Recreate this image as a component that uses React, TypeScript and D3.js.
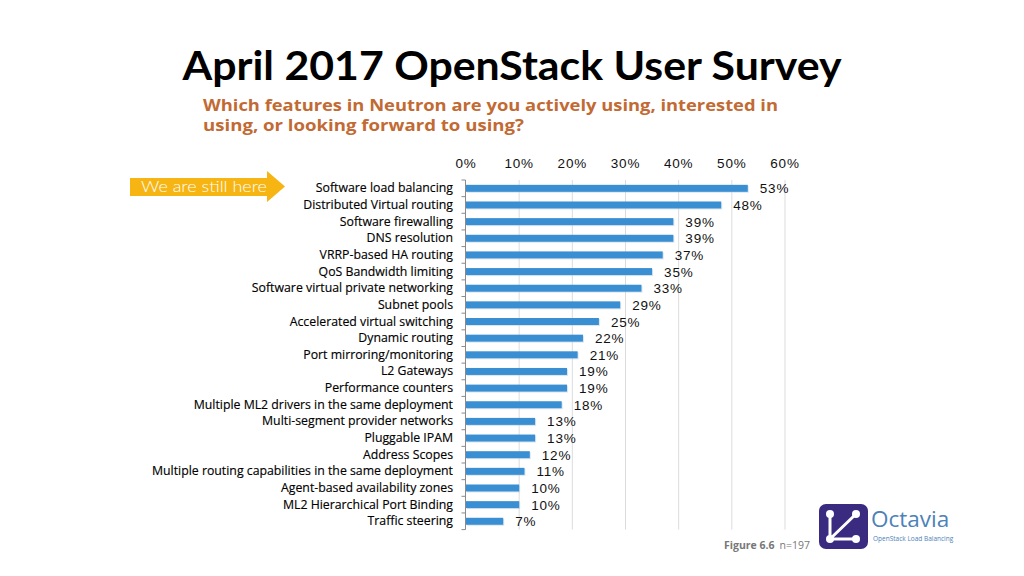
import React from "react";
import * as d3 from "d3";

const categories = [
  "Software load balancing",
  "Distributed Virtual routing",
  "Software firewalling",
  "DNS resolution",
  "VRRP-based HA routing",
  "QoS Bandwidth limiting",
  "Software virtual private networking",
  "Subnet pools",
  "Accelerated virtual switching",
  "Dynamic routing",
  "Port mirroring/monitoring",
  "L2 Gateways",
  "Performance counters",
  "Multiple ML2 drivers in the same deployment",
  "Multi-segment provider networks",
  "Pluggable IPAM",
  "Address Scopes",
  "Multiple routing capabilities in the same deployment",
  "Agent-based availability zones",
  "ML2 Hierarchical Port Binding",
  "Traffic steering",
];
const values = [53, 48, 39, 39, 37, 35, 33, 29, 25, 22, 21, 19, 19, 18, 13, 13, 12, 11, 10, 10, 7];
const xTicks = [0, 10, 20, 30, 40, 50, 60];

export default function App() {
  const W = 1024, H = 576;
  const x = d3.scaleLinear().domain([0, 60]).range([466, 785]);
  const y = d3.scaleBand<string>().domain(categories).range([180, 529.6]).paddingInner(0.58).paddingOuter(0.29);
  const step = y.step();
  const bw = y.bandwidth();
  const top = 180, bottom = 529.6;
  const fmt = (v: number) => `${v}%`;

  return (
    <svg width={W} height={H} style={{ position: "absolute", left: 0, top: 0, background: "#fff" }}>
      <rect x={0} y={0} width={W} height={H} fill="#fff" />
      <text x={512} y={80} textAnchor="middle" fontFamily="Lato, 'Open Sans', sans-serif" fontWeight={700} fontSize={41} fill="#000" textLength={659} lengthAdjust="spacingAndGlyphs">
        April 2017 OpenStack User Survey
      </text>
      <g fontFamily="'Open Sans', Lato, sans-serif" fontWeight={700} fontSize={15.5} fill="#c26a33">
        <text x={203} y={111} textLength={575} lengthAdjust="spacingAndGlyphs">Which features in Neutron are you actively using, interested in</text>
        <text x={203} y={131} textLength={321} lengthAdjust="spacingAndGlyphs">using, or looking forward to using?</text>
      </g>

      {/* arrow */}
      <path d="M130,178 L267,178 L267,171 L285,186.5 L267,202 L267,196 L130,196 Z" fill="#f6b512" />
      <text x={141} y={192} fontFamily="Lato, 'Open Sans', sans-serif" fontWeight={300} fontSize={15} fill="#fff" textLength={126} lengthAdjust="spacingAndGlyphs">We are still here</text>

      {/* gridlines */}
      {xTicks.slice(1).map((t) => (
        <line key={t} x1={x(t)} x2={x(t)} y1={top} y2={bottom} stroke="#dcdcdc" strokeWidth={1} />
      ))}
      {/* axis labels */}
      {xTicks.map((t) => (
        <text key={t} x={x(t)} y={168} textAnchor="middle" fontFamily="'Liberation Sans', Arial, sans-serif" fontSize={13.5} letterSpacing={0.8} fill="#111">
          {fmt(t)}
        </text>
      ))}
      {/* left axis */}
      <line x1={465.5} x2={465.5} y1={top} y2={bottom} stroke="#8a8a8a" strokeWidth={1} />
      {d3.range(categories.length + 1).map((i) => (
        <line key={i} x1={461.5} x2={465.5} y1={top + i * step} y2={top + i * step} stroke="#8a8a8a" strokeWidth={1} />
      ))}

      {categories.map((c, i) => {
        const yy = y(c)!;
        const cy = yy + bw / 2;
        return (
          <g key={c}>
            <rect x={x(0) + 1} y={yy + 1} width={x(values[i]) - x(0)} height={bw} fill="#b9cde0" opacity={0.5} />
            <rect x={x(0)} y={yy} width={x(values[i]) - x(0)} height={bw} fill="#3a8fd3" />
            <text x={453} y={cy + 4} textAnchor="end" fontFamily="'Open Sans', sans-serif" fontSize={12.3} fill="#000" stroke="#000" strokeWidth={0.15}>{c}</text>
            <text x={x(values[i]) + 12} y={cy + 5} fontFamily="'Liberation Sans', Arial, sans-serif" fontSize={13.5} letterSpacing={0.8} fill="#111">{fmt(values[i])}</text>
          </g>
        );
      })}

      {/* figure caption */}
      <text x={724} y={549} fontFamily="'Open Sans', sans-serif" fontSize={10.5} fill="#777">
        <tspan fontWeight={700}>Figure 6.6</tspan>
        <tspan dx={5}>n=197</tspan>
      </text>

      {/* Octavia logo */}
      <rect x={819} y={504} width={49} height={45} rx={7} fill="#3a2a80" />
      <g stroke="#fff" strokeWidth={3} strokeLinecap="round" fill="#fff">
        <line x1={830} y1={514} x2={830} y2={539} />
        <line x1={830} y1={539} x2={856} y2={539} />
        <line x1={830} y1={539} x2={856} y2={514} />
        <circle cx={830} cy={514} r={4} stroke="none" />
        <circle cx={856} cy={514} r={4} stroke="none" />
        <circle cx={830} cy={539} r={4} stroke="none" />
        <circle cx={856} cy={539} r={4} stroke="none" />
      </g>
      <text x={871} y={527} fontFamily="'Open Sans', sans-serif" fontSize={22.5} fill="#4c82b8">Octavia</text>
      <text x={873} y={541} fontFamily="'Open Sans', sans-serif" fontSize={6.5} fill="#4c82b8">OpenStack Load Balancing</text>
    </svg>
  );
}
